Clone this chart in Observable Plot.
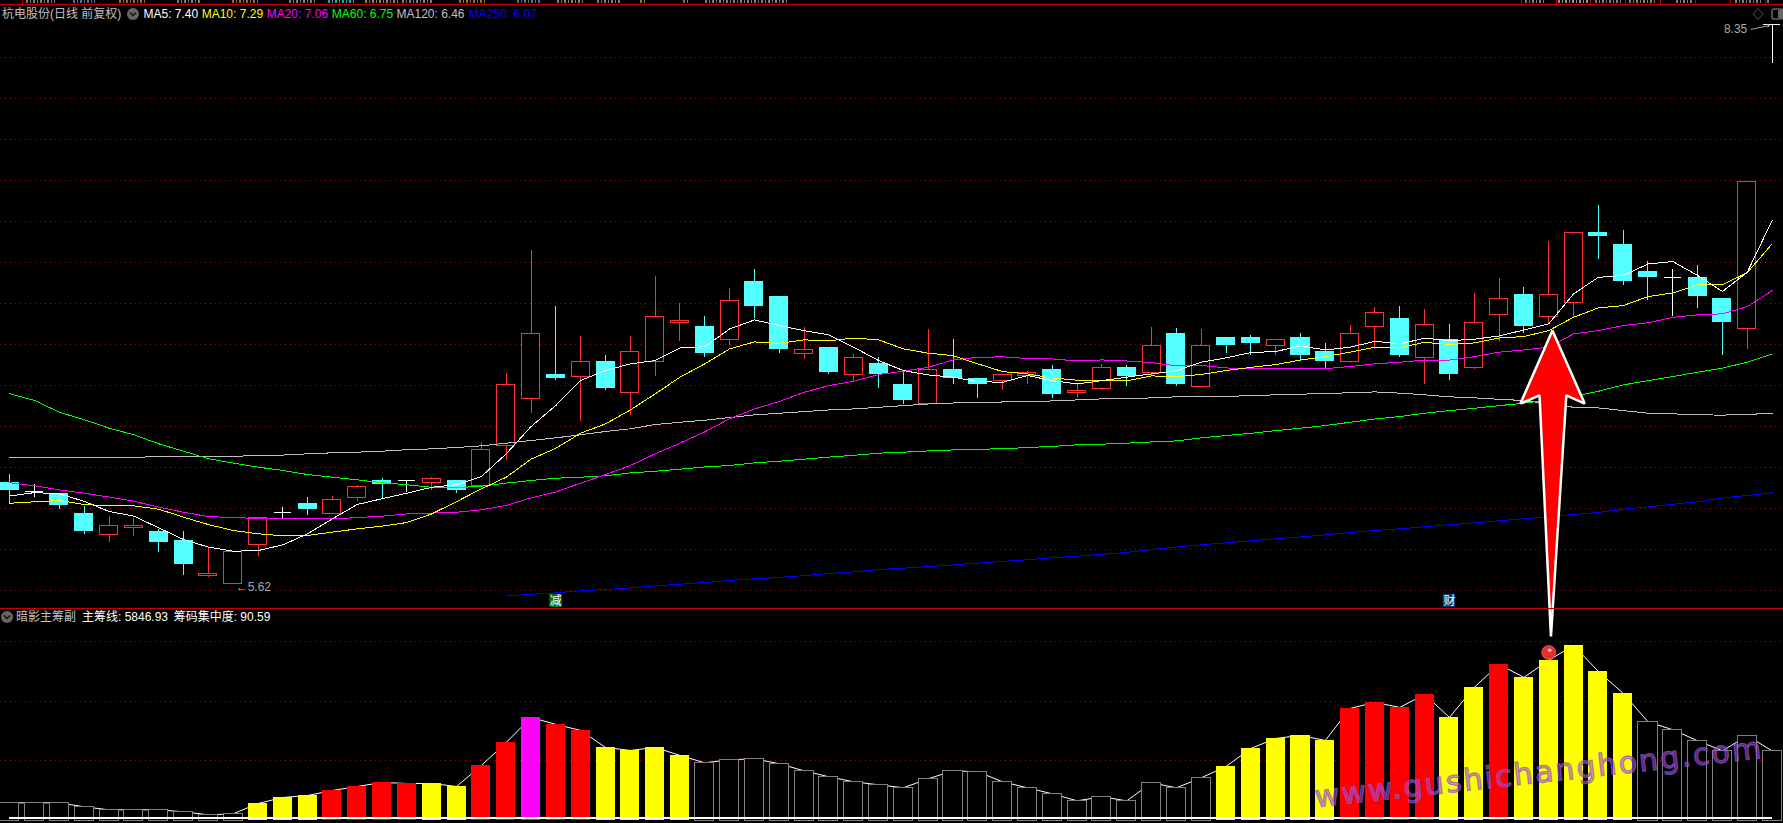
<!DOCTYPE html>
<html><head><meta charset="utf-8">
<script src="https://cdn.jsdelivr.net/npm/d3@7"></script>
<script src="https://cdn.jsdelivr.net/npm/@observablehq/plot@0.6"></script>
<style>
html,body{margin:0;padding:0;background:#000;width:1783px;height:823px;overflow:hidden}
#stage{position:relative;width:1783px;height:823px;font:12px "Liberation Sans","Noto Sans CJK SC",sans-serif;color:#c0c0c0}
#stage > svg{position:absolute;left:0;top:0;background:transparent}
.t{position:absolute;white-space:nowrap;line-height:14px}
.red{position:absolute;background:#c00000}
.frag{position:absolute;top:0;height:3px;opacity:.65}
.ico{position:absolute;width:12px;height:12px;border-radius:50%;background:#666}
</style></head><body><div id="stage"></div>
<script>
const candleKind="cwccrrccrrrwcrrcwrcrrrcrcrrrcrccrcrccrccrrcrrcrcrccrccrrcrcrrcrrcccwccrw".split("");
const highs=[6.154,6.104,6.063,6.000,5.949,5.940,5.886,5.876,5.792,5.774,5.943,5.993,6.042,6.047,6.101,6.135,6.123,6.140,6.125,6.309,6.645,7.247,6.974,6.827,6.734,6.827,7.120,6.986,6.925,7.061,7.154,7.022,6.870,6.774,6.739,6.725,6.652,6.862,6.813,6.622,6.642,6.657,6.686,6.596,6.691,6.686,6.871,6.866,6.861,6.822,6.832,6.811,6.842,6.793,6.881,6.968,6.973,6.959,6.886,7.037,7.110,7.066,7.290,7.333,7.466,7.344,7.193,7.154,7.173,7.012,7.582,8.35];
const tops=[6.115,6.071,6.060,5.964,5.904,5.904,5.876,5.832,5.670,5.774,5.943,5.970,6.013,6.031,6.094,6.125,6.123,6.133,6.125,6.275,6.592,6.840,6.642,6.704,6.705,6.752,6.923,6.904,6.876,7.001,7.095,7.022,6.762,6.774,6.723,6.696,6.593,6.665,6.667,6.622,6.640,6.650,6.667,6.562,6.676,6.676,6.782,6.842,6.782,6.822,6.822,6.811,6.822,6.754,6.840,6.943,6.915,6.884,6.811,6.894,7.011,7.032,7.030,7.333,7.334,7.276,7.144,7.113,7.115,7.012,7.582,8.35];
const bottoms=[6.076,6.071,6.005,5.878,5.858,5.892,5.823,5.715,5.658,5.62,5.810,5.970,5.983,5.961,6.039,6.105,6.123,6.112,6.076,6.096,6.292,6.522,6.623,6.629,6.574,6.551,6.702,6.892,6.744,6.809,6.974,6.764,6.741,6.652,6.639,6.642,6.515,6.500,6.622,6.593,6.608,6.637,6.544,6.551,6.570,6.632,6.647,6.593,6.582,6.783,6.793,6.780,6.734,6.705,6.702,6.873,6.734,6.721,6.642,6.673,6.931,6.876,6.921,6.990,7.315,7.095,7.115,7.113,7.022,6.895,6.863,8.35];
const lows=[6.006,6.044,5.983,5.862,5.823,5.852,5.774,5.662,5.652,5.62,5.754,5.940,5.954,5.961,6.021,6.036,6.065,6.076,6.062,6.089,6.224,6.452,6.613,6.414,6.564,6.442,6.632,6.803,6.725,6.783,6.915,6.744,6.715,6.642,6.608,6.574,6.496,6.500,6.593,6.525,6.564,6.593,6.525,6.525,6.564,6.583,6.637,6.583,6.575,6.744,6.734,6.734,6.705,6.671,6.695,6.775,6.725,6.593,6.612,6.666,6.804,6.842,6.886,6.915,7.203,7.076,7.003,6.925,6.964,6.734,6.764,8.157];
const ma5=[6.049,6.066,6.060,6.023,5.974,5.951,5.894,5.837,5.800,5.780,5.783,5.811,5.865,5.938,6.008,6.036,6.063,6.092,6.104,6.144,6.255,6.388,6.491,6.613,6.661,6.694,6.710,6.772,6.777,6.864,6.908,6.881,6.856,6.835,6.775,6.710,6.661,6.640,6.629,6.607,6.604,6.637,6.612,6.596,6.612,6.629,6.645,6.660,6.702,6.723,6.749,6.754,6.781,6.762,6.775,6.804,6.791,6.819,6.807,6.814,6.830,6.859,6.889,7.035,7.116,7.125,7.181,7.193,7.125,7.047,7.141,7.393];
const ma10=[6.014,6.021,6.027,6.008,6.001,6.001,5.985,5.946,5.910,5.881,5.865,5.855,5.857,5.873,5.889,5.902,5.920,5.962,6.022,6.084,6.141,6.229,6.282,6.356,6.401,6.469,6.547,6.629,6.694,6.767,6.801,6.794,6.811,6.806,6.820,6.811,6.767,6.746,6.734,6.694,6.656,6.645,6.625,6.614,6.611,6.611,6.635,6.632,6.642,6.661,6.677,6.690,6.713,6.729,6.751,6.775,6.772,6.799,6.788,6.796,6.820,6.827,6.856,6.921,6.967,6.978,7.022,7.040,7.079,7.079,7.139,7.279];
const ma20=[6.114,6.099,6.079,6.063,6.044,6.024,5.995,5.970,5.949,5.944,5.940,5.938,5.938,5.938,5.944,5.951,5.962,5.966,5.970,5.982,6.003,6.040,6.069,6.112,6.154,6.198,6.255,6.307,6.362,6.426,6.474,6.510,6.555,6.588,6.609,6.642,6.658,6.677,6.713,6.726,6.728,6.720,6.718,6.708,6.713,6.708,6.700,6.684,6.686,6.674,6.670,6.670,6.670,6.670,6.681,6.694,6.702,6.712,6.712,6.729,6.751,6.762,6.775,6.840,6.856,6.881,6.894,6.921,6.933,6.938,6.973,7.051];
const ma60=[6.548,6.515,6.458,6.421,6.380,6.348,6.304,6.268,6.231,6.210,6.190,6.174,6.154,6.141,6.128,6.114,6.104,6.092,6.090,6.097,6.112,6.125,6.136,6.141,6.148,6.162,6.170,6.180,6.191,6.198,6.211,6.219,6.229,6.239,6.248,6.258,6.263,6.269,6.274,6.278,6.279,6.286,6.291,6.299,6.302,6.307,6.313,6.318,6.333,6.344,6.355,6.368,6.380,6.393,6.409,6.425,6.437,6.453,6.466,6.477,6.490,6.502,6.518,6.536,6.560,6.591,6.612,6.632,6.653,6.673,6.702,6.742];
const ma120=[6.236,6.236,6.236,6.236,6.236,6.239,6.240,6.242,6.244,6.244,6.245,6.249,6.255,6.260,6.263,6.268,6.275,6.279,6.286,6.294,6.307,6.320,6.333,6.348,6.364,6.377,6.398,6.409,6.419,6.432,6.445,6.453,6.461,6.469,6.474,6.482,6.490,6.498,6.503,6.503,6.508,6.508,6.513,6.518,6.523,6.523,6.528,6.533,6.534,6.536,6.538,6.543,6.546,6.549,6.553,6.557,6.551,6.543,6.533,6.528,6.521,6.515,6.499,6.482,6.479,6.466,6.453,6.450,6.445,6.444,6.447,6.453];
const ma250Start=20;
const ma250=[5.561,5.570,5.577,5.587,5.593,5.601,5.611,5.619,5.627,5.637,5.645,5.652,5.661,5.671,5.679,5.691,5.697,5.705,5.713,5.722,5.730,5.738,5.748,5.756,5.765,5.774,5.788,5.800,5.811,5.821,5.831,5.840,5.850,5.860,5.871,5.881,5.889,5.899,5.909,5.918,5.928,5.938,5.948,5.959,5.969,5.985,5.996,6.009,6.021,6.040,6.052,6.065];
const priceGrid=[5.59,5.79,5.99,6.19,6.39,6.59,6.79,6.99,7.19,7.39,7.59,7.79,7.99,8.19];
const chips=[1484,1484,1484,1148,896,896,896,728,476,560,1428,1932,2100,2520,2856,3192,3108,3108,2856,4620,6552,8652,8064,7560,6132,5880,6132,5460,4844,5096,5180,4760,4172,3668,3248,2996,2744,3500,4172,4088,3248,2744,2240,1652,1988,1652,3164,2744,3584,4536,6048,6888,7140,6720,9408,9912,9492,10584,8652,11172,13104,12012,13440,14700,12516,10668,8288,7616,6692,5852,7112,5846.93];
const chipKind=("gggggggggg"+"yyy"+"rrrr"+"yy"+"rr"+"m"+"rr"+"yyyy"+"ggggggggggggggggggggg"+"yyyyy"+"rrrr"+"yy"+"r"+"yyyyy"+"gggggg").split("");
const chipGrid=[5000,10000,15000];
const chipBase=190;
const arrowX=[62.15,63.45,62.71,62.09,61.63,60.86];
const arrowP=[6.857,6.5,6.54,5.364,6.54,6.5];
const badges=[{i:22,label:"减",fill:"#007000"},{i:58,label:"财",fill:"#0a3a6e"}];
const legendMain=[["杭电股份(日线 前复权)",2,"#c0c0c0"],["MA5: 7.40",143.5,"#ffffff"],["MA10: 7.29",201.7,"#ffff00"],["MA20: 7.06",266.7,"#ff00ff"],["MA60: 6.75",331.8,"#00ff00"],["MA120: 6.46",396.5,"#c0c0c0"],["MA250: 6.07",468.8,"#0000ff"]];
const legendSub=[["暗影主筹副",16,"#c0c0c0"],["主筹线: 5846.93",82,"#ffffff"],["筹码集中度: 90.59",173.7,"#ffffff"]];
const stripFrag=[[26,29,"#c0c0c0"],[73,22,"#7fb0d0"],[119,27,"#e0a060"],[177,24,"#c0c0c0"],[232,26,"#e0a060"],[289,26,"#c0c0c0"],[328,28,"#40ffff"],[365,34,"#e0c0a0"],[402,31,"#c0c0c0"],[459,26,"#e0a060"],[517,25,"#7fb0d0"],[557,26,"#e0c0a0"],[597,23,"#c0c0c0"],[640,6,"#e0c060"],[683,6,"#e0a060"],[705,84,"#c0c0c0"],[1525,21,"#c0c0c0"],[1558,30,"#e0e0e0"],[1595,28,"#c0c0c0"],[1629,26,"#e0c0a0"],[1676,18,"#c0c0c0"],[1735,26,"#c0c0c0"],[1767,3,"#c0c0c0"]];
const stripSep=[22,1521,1556,1590,1625,1660,1695,1730,1765];
const watermark="www.gushichanghong.com";

const h=0.383;
const idx=d3.range(highs.length);
const K={c:"#54ffff",r:"#ff3232",w:"#ffffff"};
const xS={domain:[0,71],range:[9.3,1771.6],axis:null};
const stage=document.getElementById("stage");
const series=(arr,start=0)=>arr.map((v,k)=>({i:k+start,v}));
const maLine=(arr,color,start=0)=>Plot.line(series(arr,start),{x:"i",y:"v",stroke:color,strokeWidth:1,shapeRendering:"crispEdges"});
const gridStyle={stroke:"#a80000",strokeDasharray:"1,4",shapeRendering:"crispEdges"};

// sub panel
const chipColor={g:"#808080",y:"#ffff00",r:"#ff0000",m:"#ff00ff"};
const sub=Plot.plot({width:1783,height:823,margin:0,x:xS,y:{domain:[0,15000],range:[820,641.3],axis:null},
 style:{background:"transparent"},
 marks:[
  Plot.ruleY(chipGrid,gridStyle),
  Plot.line(series(chips),{x:"i",y:"v",stroke:"#fff",strokeWidth:1}),
  Plot.rect(idx.filter(i=>chipKind[i]!=="g"),{x1:i=>i-h,x2:i=>i+h,y1:0,y2:i=>chips[i],fill:i=>chipColor[chipKind[i]],shapeRendering:"crispEdges"}),
  Plot.rect(idx.filter(i=>chipKind[i]==="g"),{x1:i=>i-h,x2:i=>i+h,y1:0,y2:i=>chips[i],stroke:"#808080",fill:"#000",strokeWidth:1,shapeRendering:"crispEdges"}),
  Plot.ruleY([chipBase],{x1:0,x2:71,stroke:"#fff",strokeWidth:2,shapeRendering:"crispEdges"}),
  Plot.dot([{i:62,v:14100}],{x:"i",y:"v",r:7,fill:"#e62e2e",stroke:"#f08080",strokeWidth:0.6}),
  Plot.dot([{i:62.04,v:14290}],{x:"i",y:"v",r:1.8,fill:"#ffc0c0"})
 ]});
stage.appendChild(sub);

// main panel
const arrowPts=arrowX.map((x,k)=>({x,p:arrowP[k]}));
const main=Plot.plot({width:1783,height:823,margin:0,x:xS,y:{domain:[5.62,8.35],range:[583.5,23.85],axis:null},
 style:{background:"transparent"},
 marks:[
  Plot.ruleY(priceGrid,gridStyle),
  Plot.ruleX(idx,{x:i=>i,y1:i=>highs[i],y2:i=>lows[i],stroke:i=>K[candleKind[i]],strokeWidth:1,shapeRendering:"crispEdges"}),
  Plot.rect(idx.filter(i=>candleKind[i]==="r"),{x1:i=>i-h+0.02,x2:i=>i+h-0.02,y1:i=>bottoms[i],y2:i=>tops[i],fill:"#000",stroke:"#ff3232",strokeWidth:1,shapeRendering:"crispEdges"}),
  Plot.rect(idx.filter(i=>candleKind[i]==="c"),{x1:i=>i-h,x2:i=>i+h,y1:i=>bottoms[i],y2:i=>tops[i],fill:"#54ffff",shapeRendering:"crispEdges"}),
  Plot.ruleY(idx.filter(i=>candleKind[i]==="w"),{y:i=>tops[i],x1:i=>i-0.35,x2:i=>i+0.35,stroke:"#fff",strokeWidth:1,shapeRendering:"crispEdges"}),
  maLine(ma120,"#c0c0c0"),
  maLine(ma60,"#00ff00"),
  maLine(ma250,"#0000ff",ma250Start),
  maLine(ma20,"#ff00ff"),
  maLine(ma10,"#ffff00"),
  maLine(ma5,"#ffffff"),
  Plot.text([{i:9.1,p:5.605,s:"←5.62"}],{x:"i",y:"p",text:"s",textAnchor:"start",fill:"#a8a8a8",fontSize:12,fontFamily:"Liberation Sans"}),
  Plot.text([{i:70.0,p:8.325,s:"8.35"}],{x:"i",y:"p",text:"s",textAnchor:"end",dx:0,fill:"#a8a8a8",fontSize:12,fontFamily:"Liberation Sans"}),
  Plot.arrow([{a:70.15,b:8.325,c:70.9,d:8.345}],{x1:"a",y1:"b",x2:"c",y2:"d",stroke:"#a8a8a8",strokeWidth:1,headLength:4}),
  Plot.rect(badges,{x1:d=>d.i-0.25,x2:d=>d.i+0.25,y1:5.505,y2:5.569,fill:"fill"}),
  Plot.text(badges,{x:"i",y:5.537,text:"label",fill:"#fff",fontSize:12,fontFamily:"Noto Sans CJK SC"}),
  Plot.line(arrowPts,{x:"x",y:"p",curve:"linear-closed",fill:"#ff0000",stroke:"#fff",strokeWidth:2.5,strokeLinejoin:"miter",style:{filter:"drop-shadow(0 0 1.5px rgba(255,255,255,.6))"}})
 ]});
stage.appendChild(main);

// frame + text overlays
function red(l,t,w,ht){const d=document.createElement("div");d.className="red";d.style.cssText=`left:${l}px;top:${t}px;width:${w}px;height:${ht}px`;stage.appendChild(d)}
red(0,4,1783,1);red(0,608,1783,1);
stripSep.forEach(x=>red(x,0,1,4));
stripFrag.forEach(([x,w,c])=>{const d=document.createElement("div");d.className="frag";d.style.cssText=`left:${x}px;width:${w}px;background:repeating-linear-gradient(90deg,${c} 0 2px,transparent 2px 4px,${c} 4px 5px,transparent 5px 7px)`;stage.appendChild(d)});
function label(arr,top){arr.forEach(([s,x,c])=>{const d=document.createElement("div");d.className="t";d.textContent=s;d.style.cssText=`left:${x}px;top:${top}px;color:${c}`;stage.appendChild(d)})}
label(legendMain,6.5);label(legendSub,610);
function icon(x,y){const d=document.createElement("div");d.className="ico";d.style.left=(x-6)+"px";d.style.top=(y-6)+"px";d.innerHTML='<svg width="12" height="12" style="display:block"><path d="M3 4.5 L6 7.5 L9 4.5" fill="none" stroke="#111" stroke-width="1.4"/></svg>';stage.appendChild(d)}
icon(132.8,14);icon(6.5,617);
const tools=document.createElement("div");tools.style.cssText="position:absolute;left:1750px;top:7px;width:33px;height:14px";
tools.innerHTML='<svg width="33" height="14"><path d="M8 1.5 L13 7 L8 12.5 L3 7Z" fill="none" stroke="#555"/><rect x="22" y="2" width="11" height="10" rx="2" fill="none" stroke="#666" stroke-width="1.5"/><rect x="28" y="3" width="5" height="8" fill="#666"/></svg>';
stage.appendChild(tools);
const wm=document.createElement("div");
wm.textContent=watermark;
wm.style.cssText='position:absolute;left:1539px;top:772px;transform:translate(-50%,-50%) rotate(-6.3deg);font:30px "DejaVu Sans",sans-serif;letter-spacing:2.2px;white-space:nowrap;color:rgba(200,50,240,.5);-webkit-text-stroke:1.3px rgba(100,110,180,.7);paint-order:stroke fill';
stage.appendChild(wm);
</script></body></html>
